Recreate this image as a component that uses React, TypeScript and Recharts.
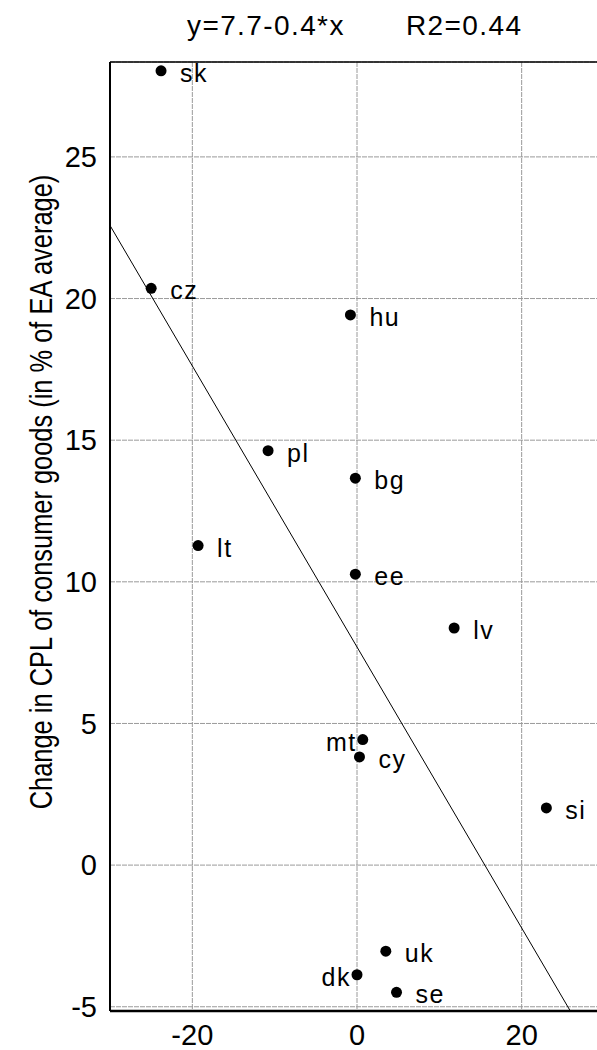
import { ScatterChart, Scatter, XAxis, YAxis, CartesianGrid, ReferenceLine } from 'recharts'

// country codes and their coordinates
const countries = ['sk', 'cz', 'hu', 'pl', 'bg', 'lt', 'ee', 'lv', 'mt', 'cy', 'si', 'uk', 'dk', 'se']
const xValues = [-23.8, -25.0, -0.8, -10.8, -0.2, -19.3, -0.2, 11.8, 0.7, 0.3, 23.0, 3.5, 0.0, 4.8]
const yValues = [28.04, 20.36, 19.42, 14.63, 13.66, 11.28, 10.27, 8.37, 4.43, 3.82, 2.02, -3.04, -3.87, -4.49]
const leftLabelled = ['mt', 'dk']

const xTicks = [-20, 0, 20]
const yTicks = [-5, 0, 5, 10, 15, 20, 25]
const xDomain = [-30, 30]
const yDomain = [-5.15, 28.35]

// fitted line (slope, title rounds it)
const fitIntercept = 7.7
const fitSlope = -0.496
const fitXs = [-30, 25.85]

const titleLeft = 'y=7.7-0.4*x'
const titleRight = 'R2=0.44'
const yLabel = 'Change in CPL of consumer goods (in % of EA average)'

const sans = '"Liberation Sans", Arial, sans-serif'
const tickFont = { fontSize: 29, fill: '#000', fontFamily: sans }

function Dot(props: any) {
  const { cx, cy, payload } = props
  const left = payload.side === 'left'
  return (
    <g>
      <circle cx={cx} cy={cy} r={5.5} fill="#000" />
      <text
        x={left ? cx - 6 : cx + 19}
        y={cy + 11}
        textAnchor={left ? 'end' : 'start'}
        fontSize={25}
        letterSpacing={1.5}
        fontFamily={sans}
        fill="#000"
      >
        {payload.name}
      </text>
    </g>
  )
}

export default function App() {
  const data = countries.map((name, i) => ({
    name,
    x: xValues[i],
    y: yValues[i],
    side: leftLabelled.includes(name) ? 'left' : 'right',
  }))
  const segment = fitXs.map((x) => ({ x, y: fitIntercept + fitSlope * x }))

  return (
    <div
      style={{
        position: 'absolute',
        left: 0,
        top: 0,
        width: 597,
        height: 1050,
        overflow: 'hidden',
        background: '#fff',
      }}
    >
      <ScatterChart width={606} height={1050} margin={{ top: 62, right: 2, bottom: 0, left: 0 }}>
        <CartesianGrid stroke="#9a9a9a" strokeDasharray="5 1" />
        <XAxis
          type="number"
          dataKey="x"
          domain={xDomain}
          ticks={xTicks}
          allowDataOverflow
          height={39}
          tickSize={0}
          tickMargin={13}
          tick={tickFont}
          axisLine={{ stroke: '#000', strokeWidth: 2.5 }}
          tickLine={false}
        />
        <YAxis
          type="number"
          dataKey="y"
          domain={yDomain}
          ticks={yTicks}
          allowDataOverflow
          width={110}
          tickSize={0}
          tickMargin={13}
          tick={tickFont}
          axisLine={{ stroke: '#000', strokeWidth: 2 }}
          tickLine={false}
        />
        <ReferenceLine y={yDomain[1]} stroke="#000" strokeWidth={1.5} ifOverflow="visible" />
        <ReferenceLine segment={segment} stroke="#000" strokeWidth={1} ifOverflow="visible" />
        <Scatter data={data} shape={Dot} isAnimationActive={false} />
      </ScatterChart>
      <svg
        width={597}
        height={1050}
        style={{ position: 'absolute', left: 0, top: 0, pointerEvents: 'none' }}
      >
        <text x={187} y={35} fontSize={28} letterSpacing={1.4} fontFamily={sans} fill="#000">
          {titleLeft}
        </text>
        <text x={406} y={35} fontSize={28} letterSpacing={1.4} fontFamily={sans} fill="#000">
          {titleRight}
        </text>
        <text
          transform="translate(52,492) rotate(-90) scale(0.82,1)"
          textAnchor="middle"
          fontSize={31}
          fontFamily={sans}
          fill="#000"
        >
          {yLabel}
        </text>
      </svg>
    </div>
  )
}
